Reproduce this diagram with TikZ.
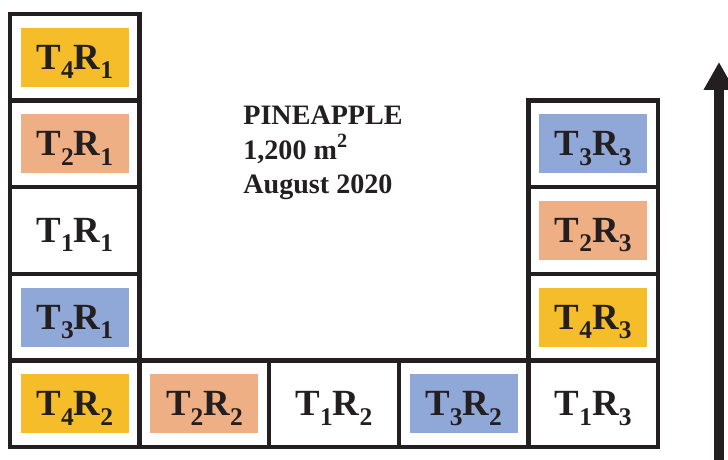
\documentclass[tikz,border=0pt]{standalone}
\usepackage{fontspec}
\setmainfont{Liberation Serif}
\usetikzlibrary{arrows.meta}
\definecolor{lineblack}{RGB}{35,31,32}
\definecolor{tyellow}{RGB}{245,189,42}
\definecolor{tsalmon}{RGB}{239,175,133}
\definecolor{tblue}{RGB}{143,168,215}
\newcommand{\sbs}[1]{\raisebox{-0.25em}{\fontsize{14.5}{15}\selectfont #1}}
\newcommand{\trt}[2]{T\sbs{#1}R\sbs{#2}}

\begin{document}
\begin{tikzpicture}[x=0.02cm,y=-0.02cm,
    plot/.style={draw=lineblack,line width=0.09cm,minimum width=2.592cm,minimum height=1.732cm,inner sep=0pt},
    tag/.style={minimum width=2.16cm,minimum height=1.18cm,inner sep=0pt,text depth=0pt,text=lineblack,
      font=\bfseries\fontsize{21}{24}\selectfont}]
  \useasboundingbox (0,0) rectangle (728,460);

  % left column, block R1
  \node (p41) [plot] at (74.8,57.3) {};
  \node (p21) [plot] at (74.8,143.9) {};
  \node (p11) [plot] at (74.8,230.5) {};
  \node (p31) [plot] at (74.8,317.1) {};
  \node (t41) [tag, fill=tyellow] at (p41) {\trt{4}{1}};
  \node (t21) [tag, fill=tsalmon] at (p21) {\trt{2}{1}};
  \node (t11) [tag] at (p11) {\trt{1}{1}};
  \node (t31) [tag, fill=tblue] at (p31) {\trt{3}{1}};

  % bottom row, block R2
  \node (p42) [plot] at (74.8,403.7) {};
  \node (p22) [plot] at (204.4,403.7) {};
  \node (p12) [plot] at (334,403.7) {};
  \node (p32) [plot] at (463.6,403.7) {};
  \node (t42) [tag, fill=tyellow] at (p42) {\trt{4}{2}};
  \node (t22) [tag, fill=tsalmon] at (p22) {\trt{2}{2}};
  \node (t12) [tag] at (p12) {\trt{1}{2}};
  \node (t32) [tag, fill=tblue] at (p32) {\trt{3}{2}};

  % right column, block R3
  \node (p33) [plot] at (593.2,143.9) {};
  \node (p23) [plot] at (593.2,230.5) {};
  \node (p43) [plot] at (593.2,317.1) {};
  \node (p13) [plot] at (593.2,403.7) {};
  \node (t33) [tag, fill=tblue] at (p33) {\trt{3}{3}};
  \node (t23) [tag, fill=tsalmon] at (p23) {\trt{2}{3}};
  \node (t43) [tag, fill=tyellow] at (p43) {\trt{4}{3}};
  \node (t13) [tag] at (p13) {\trt{1}{3}};

  \node (crop) [anchor=north west, align=left, inner sep=0pt, text=lineblack,
    font=\bfseries\fontsize{16}{19.5}\selectfont] at (243,106)
    {PINEAPPLE\\1,200 m\raisebox{0.4em}{\fontsize{11.5}{12}\selectfont 2}\\August 2020};

  % slope arrow
  \coordinate (foot) at (719,460);
  \coordinate (top) at (719,62);
  \draw [lineblack, line width=0.2cm, -{Triangle[width=0.58cm,length=0.56cm]}] (foot) -- (top);
\end{tikzpicture}
\end{document}
